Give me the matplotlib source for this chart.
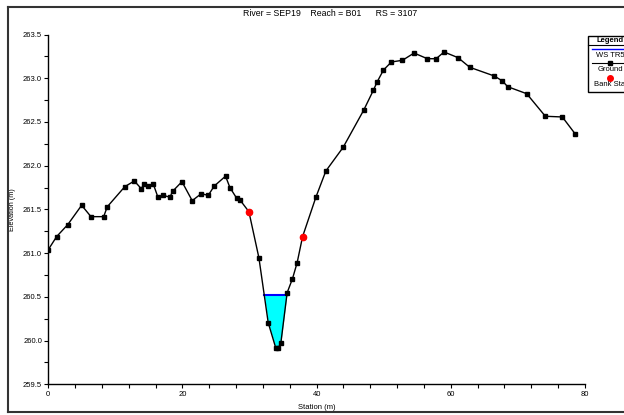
import numpy as np
import matplotlib
matplotlib.use("Agg")
import matplotlib.pyplot as plt
from matplotlib.lines import Line2D
from matplotlib.patches import Rectangle
from matplotlib.ticker import MultipleLocator, FormatStrFormatter

plt.rcParams['font.family'] = ['Liberation Sans', 'DejaVu Sans']

station = [0.0, 1.25, 2.89, 4.97, 6.36, 8.25, 8.79, 11.4, 12.82, 13.86, 14.26, 14.85,
           15.65, 16.34, 17.13, 18.13, 18.53, 19.92, 21.45, 22.8, 23.84, 24.73, 26.42,
           27.07, 28.06, 28.55, 29.9, 31.39, 32.78, 33.92, 34.27, 34.66, 35.6, 36.4,
           37.09, 37.9, 39.88, 41.37, 43.95, 47.03, 48.47, 49.01, 49.96, 51.15, 52.79,
           54.52, 56.51, 57.8, 59.0, 61.08, 62.82, 66.5, 67.69, 68.48, 71.31, 74.09,
           76.62, 78.51]
elevation = [261.04, 261.19, 261.325, 261.547, 261.417, 261.417, 261.53, 261.76, 261.825,
             261.737, 261.79, 261.77, 261.79, 261.64, 261.66, 261.64, 261.707, 261.817,
             261.60, 261.68, 261.66, 261.767, 261.88, 261.75, 261.63, 261.61, 261.474,
             260.948, 260.204, 259.912, 259.918, 259.969, 260.547, 260.708, 260.89,
             261.188, 261.638, 261.939, 262.21, 262.637, 262.865, 262.957, 263.094,
             263.186, 263.205, 263.288, 263.223, 263.223, 263.3, 263.235, 263.125,
             263.025, 262.968, 262.903, 262.823, 262.565, 262.557, 262.366]
bank_station = [29.9, 37.9]
bank_elev = [261.474, 261.188]
ws_elev = 260.52

title = "River = SEP19    Reach = B01      RS = 3107"

W, H = 624, 415
fig = plt.figure(figsize=(W / 100, H / 100), dpi=100)
ax = fig.add_axes([48.3 / W, 1 - 384.3 / H, (585 - 48.3) / W, (384.3 - 34.5) / H])

x = np.array(station)
z = np.array(elevation)

# water surface intersections
below = z < ws_elev
idx = np.where(below)[0]
i0, i1 = idx[0], idx[-1]
xl = np.interp(ws_elev, [z[i0], z[i0 - 1]], [x[i0], x[i0 - 1]])
xr = np.interp(ws_elev, [z[i1], z[i1 + 1]], [x[i1], x[i1 + 1]])
xs = np.concatenate([[xl], x[i0:i1 + 1], [xr]])
zs = np.concatenate([[ws_elev], z[i0:i1 + 1], [ws_elev]])
ax.fill_between(xs, zs, ws_elev, color='#00ffff', lw=0, zorder=1)
ax.plot([xl, xr], [ws_elev, ws_elev], color='#0000ff', lw=1.5, zorder=2)

ax.plot(x, z, color='black', lw=1, marker='s', ms=3, zorder=3)
ax.plot(bank_station, bank_elev, ls='none', marker='o', ms=4.5, color='#ff0000', zorder=4)

ax.set_xlim(0, 80)
ax.set_ylim(259.5, 263.5)
ax.xaxis.set_major_locator(MultipleLocator(20))
ax.xaxis.set_minor_locator(MultipleLocator(4))
ax.yaxis.set_major_locator(MultipleLocator(0.5))
ax.yaxis.set_minor_locator(MultipleLocator(0.25))
ax.yaxis.set_major_formatter(FormatStrFormatter('%.1f'))
for s in ['top', 'right']:
    ax.spines[s].set_visible(False)
for s in ['left', 'bottom']:
    ax.spines[s].set_linewidth(1.0)
ax.tick_params(which='both', direction='out', labelsize=5.5, width=0.8, pad=1.5)
ax.tick_params(which='major', length=3)
ax.tick_params(which='minor', length=3)
ax.set_xlabel('Station (m)', fontsize=5.5, labelpad=5)
ax.set_ylabel('Elevation (m)', fontsize=5.2, labelpad=5)

fig.text(330 / W, 1 - 14 / H, title, ha='center', va='center', fontsize=6.3)

# outer frame
fx0, fy0, fy1 = 8 / W, 1 - 412 / H, 1 - 7 / H
fr = 1.05
for xa, ya in [([fx0, fx0], [fy0, fy1]), ([fx0, fr], [fy1, fy1]), ([fx0, fr], [fy0, fy0])]:
    fig.add_artist(Line2D(xa, ya, color='#333333', lw=1.5, transform=fig.transFigure))

# legend box
lx0 = 588.3 / W
lcx = 610 / W
ly = lambda p: 1 - p / H
fig.add_artist(Rectangle((lx0, ly(92)), 0.2, ly(35.7) - ly(92), transform=fig.transFigure,
                         facecolor='white', edgecolor='black', lw=1))
fig.add_artist(Line2D([lx0, 1.2], [ly(45), ly(45)], color='black', lw=0.8, transform=fig.transFigure))
fig.text(lcx, ly(40.5), 'Legend', ha='center', va='center', fontsize=5.5, fontweight='bold')
fig.add_artist(Line2D([592 / W, 1.2], [ly(49.3), ly(49.3)], color='#0000ff', lw=1, transform=fig.transFigure))
fig.text(lcx, ly(55.3), 'WS TR5', ha='center', va='center', fontsize=5.5)
fig.add_artist(Line2D([592 / W, 1.2], [ly(63.3), ly(63.3)], color='black', lw=0.8, transform=fig.transFigure))
fig.add_artist(Line2D([lcx], [ly(63.3)], color='black', marker='s', ms=2.5, ls='none', transform=fig.transFigure))
fig.text(lcx, ly(69.7), 'Ground', ha='center', va='center', fontsize=5.5)
fig.add_artist(Line2D([lcx], [ly(78)], color='#ff0000', marker='o', ms=4, ls='none', transform=fig.transFigure))
fig.text(lcx, ly(84.3), 'Bank Sta', ha='center', va='center', fontsize=5.5)

fig.savefig('out.png', dpi=100)
